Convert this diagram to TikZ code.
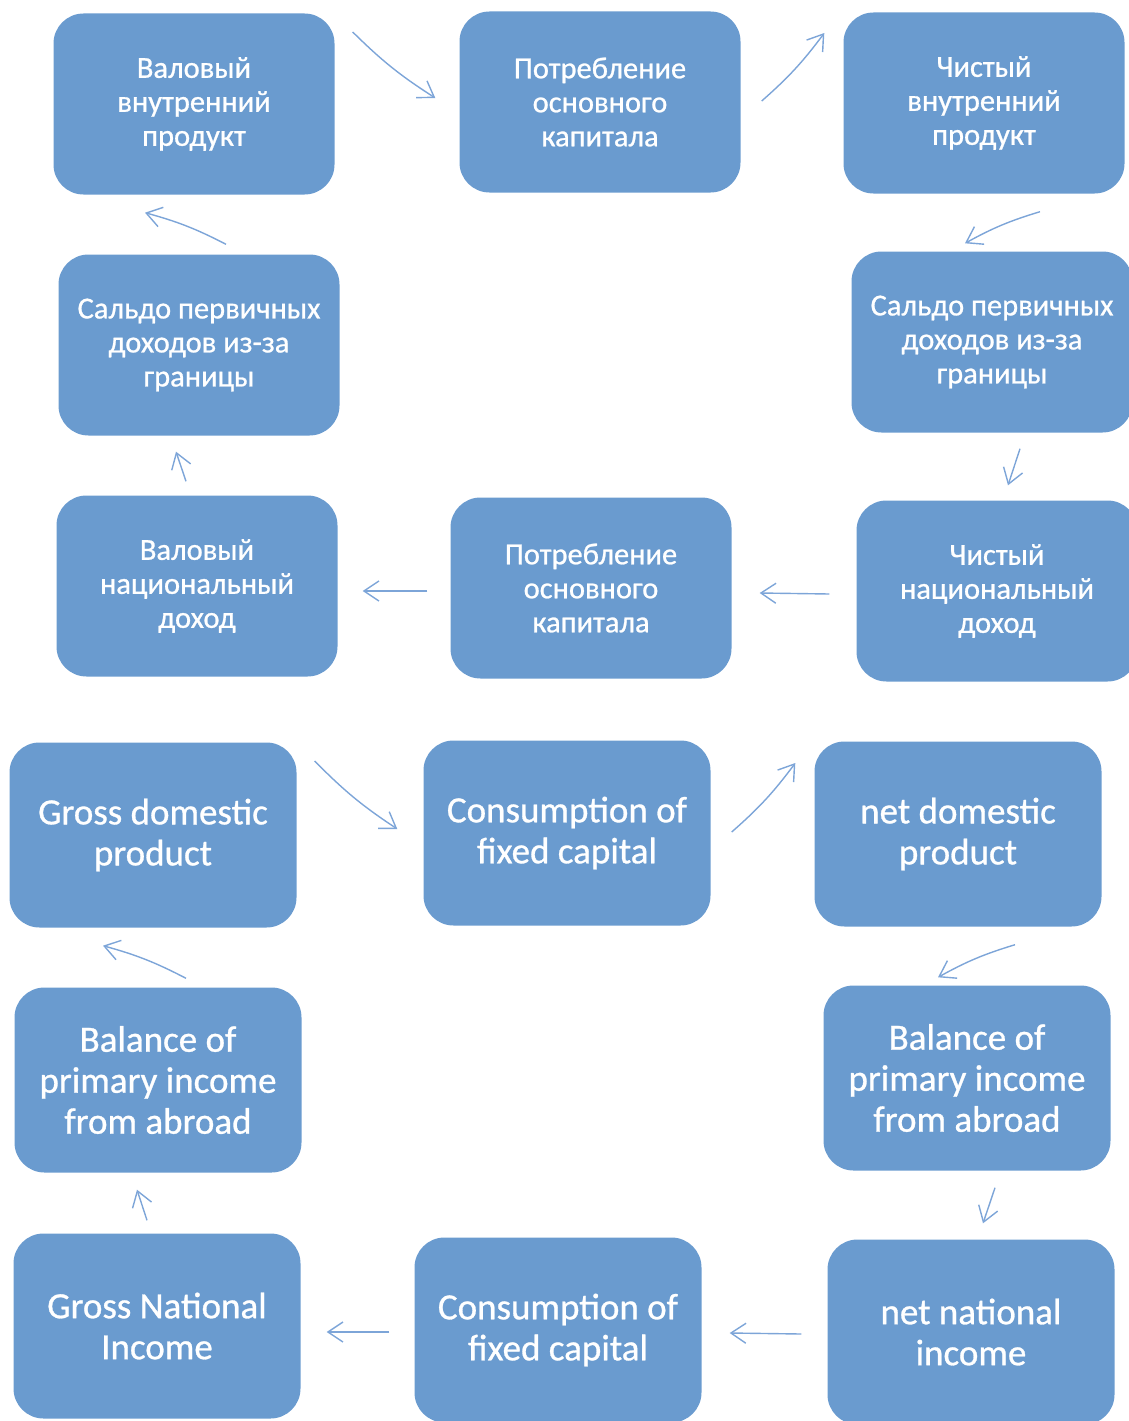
\documentclass[tikz,border=0pt]{standalone}
\usepackage{fontspec}
\setmainfont{Carlito}
\newfontfamily\boxfamily{Carlito}[FakeBold=0.8]
\usetikzlibrary{arrows.meta,calc}
\definecolor{boxblue}{RGB}{106,155,207}
\definecolor{arrowblue}{RGB}{125,165,216}
\newcommand{\rufont}{\boxfamily\fontsize{30.5}{34}\selectfont}
\newcommand{\enfont}{\boxfamily\fontsize{37}{41}\selectfont}

\begin{document}
\begin{tikzpicture}[
      x=1pt, y=-1pt,
      every node/.style={inner sep=0pt, align=center, text=white},
      rubox/.style={fill=boxblue, rounded corners=30pt, minimum width=281pt, minimum height=181pt, font=\rufont},
      enbox/.style={fill=boxblue, rounded corners=30pt, minimum width=287pt, minimum height=185pt, font=\enfont},
      flow/.style={draw=arrowblue, line width=1.4pt, -{Straight Barb[length=15pt,width=20pt]}},
      curved/.style={flow, bend right=6}
    ]
      \useasboundingbox (0,0) rectangle (1128,1421);
      \node[rubox] (vvp) at (194,104) {Валовый\\внутренний\\продукт};
      \node[rubox] (pok1) at (600,102) {Потребление\\основного\\капитала};
      \node[rubox] (chvp) at (984,103) {Чистый\\внутренний\\продукт};
      \node[rubox] (saldo1) at (199,345) {Сальдо первичных\\доходов из-за\\границы};
      \node[rubox] (saldo2) at (992,342) {Сальдо первичных\\доходов из-за\\границы};
      \node[rubox] (vnd) at (197,586) {Валовый\\национальный\\доход};
      \node[rubox] (pok2) at (591,588) {Потребление\\основного\\капитала};
      \node[rubox] (chnd) at (997,591) {Чистый\\национальный\\доход};

      \node[enbox] (gdp) at (153,835) {Gross domestic\\product};
      \node[enbox] (cfc1) at (567,833) {Consumption of\\fixed capital};
      \node[enbox] (ndp) at (958,834) {net domestic\\product};
      \node[enbox] (bal1) at (158,1080) {Balance of\\primary income\\from abroad};
      \node[enbox] (bal2) at (967,1078) {Balance of\\primary income\\from abroad};
      \node[enbox] (gni) at (157,1326) {Gross National\\Income};
      \node[enbox] (cfc2) at (558,1330) {Consumption of\\fixed capital};
      \node[enbox] (nni) at (971,1332) {net national\\income};

      \draw[curved] ($(vvp.east)+(18,-72)$) to ($(pok1.west)+(-24,-4)$);
      \draw[curved] ($(pok1.east)+(21,-1)$) to ($(chvp.west)+(-19,-70)$);
      \draw[curved] ($(chvp.south)+(56,18)$) to ($(saldo2.north)+(-27,-8)$);
      \draw[flow] ($(saldo2.south)+(28,16)$) -- ($(chnd.north)+(11,-15)$);
      \draw[flow] ($(chnd.west)+(-27,3)$) -- ($(pok2.east)+(28,5)$);
      \draw[flow] ($(pok2.west)+(-23,3)$) -- ($(vnd.east)+(25,5)$);
      \draw[flow] ($(vnd.north)+(-11,-14)$) -- ($(saldo1.south)+(-23,16)$);
      \draw[curved] ($(saldo1.north)+(27,-10)$) to ($(vvp.south)+(-49,18)$);

      \draw[curved] ($(gdp.east)+(18,-74)$) to ($(cfc1.west)+(-26,-4)$);
      \draw[curved] ($(cfc1.east)+(21,-1)$) to ($(ndp.west)+(-19,-71)$);
      \draw[curved] ($(ndp.south)+(57,18)$) to ($(bal2.north)+(-29,-8)$);
      \draw[flow] ($(bal2.south)+(28,17)$) -- ($(nni.north)+(12,-16)$);
      \draw[flow] ($(nni.west)+(-26,2)$) -- ($(cfc2.east)+(28,3)$);
      \draw[flow] ($(cfc2.west)+(-25,2)$) -- ($(gni.east)+(26,6)$);
      \draw[flow] ($(gni.north)+(-10,-13)$) -- ($(bal1.south)+(-21,17)$);
      \draw[curved] ($(bal1.north)+(28,-9)$) to ($(gdp.south)+(-50,18)$);
    \end{tikzpicture}
\end{document}
